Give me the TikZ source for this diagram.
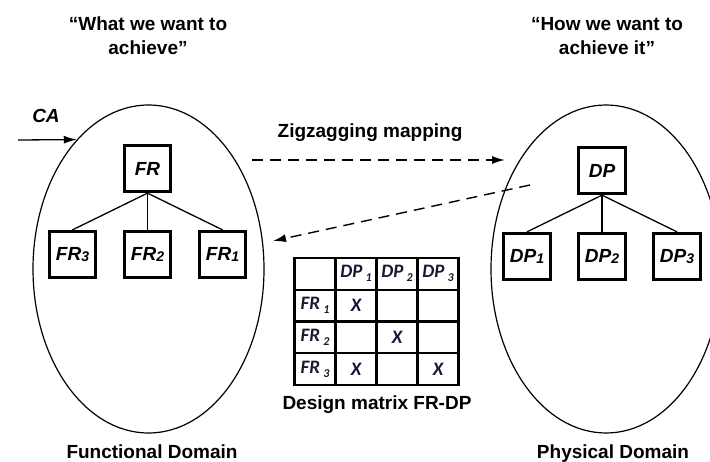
\documentclass[tikz,border=0pt]{standalone}
\usepackage{fontspec}
\setmainfont{Liberation Sans}
\newfontfamily\cellfont{Carlito}
\usetikzlibrary{positioning, arrows.meta, shapes.geometric, matrix}
\definecolor{cellink}{RGB}{22,24,52}
\newcommand{\boxidx}[1]{\raisebox{-1pt}{\fontsize{14}{14}\selectfont #1}}
\newcommand{\cellidx}[1]{\,\raisebox{-4pt}{\fontsize{12}{12}\selectfont #1}}

\begin{document}
\begin{tikzpicture}[x=1pt,y=1pt,node distance=75pt,on grid,
  dom/.style={draw,ellipse,line width=1.2pt,minimum width=231pt,minimum height=328pt,inner sep=0pt},
  req/.style={draw,line width=2.8pt,minimum width=46.5pt,minimum height=46.5pt,inner sep=0pt,font=\fontsize{19}{19}\selectfont\bfseries\itshape},
  head/.style={align=center,font=\fontsize{19}{24}\selectfont\bfseries},
  zig/.style={-{Latex[length=13pt,width=8pt]},dash pattern=on 11pt off 7pt,line width=1.4pt},
  link/.style={line width=1.3pt}]
\clip (0,0) rectangle (710,461);

\node[head] (what) at (148,425) {``What we want to\\achieve''};
\node[head] (how) at (607,425) {``How we want to\\achieve it''};

\node[dom] (fd) at (148.5,192) {};
\node[dom, minimum width=230pt] (pd) at (606,192) {};

\node[req] (FR) at (147.5,292.5) {FR};
\node[req, below=86pt of FR] (FR2) {FR\boxidx{2}};
\node[req, left=of FR2] (FR3) {FR\boxidx{3}};
\node[req, right=of FR2] (FR1) {FR\boxidx{1}};

\node[req] (DP) at (602,290.5) {DP};
\node[req, below=86pt of DP] (DP2) {DP\boxidx{2}};
\node[req, left=of DP2] (DP1) {DP\boxidx{1}};
\node[req, right=of DP2] (DP3) {DP\boxidx{3}};

\draw[link] (FR.south) edge (FR3.north) edge (FR2.north) edge (FR1.north);
\draw[link] (DP.south) edge (DP1.north) edge (DP2.north) edge (DP3.north);

\coordinate (ca) at (18,321);
\node[font=\fontsize{19}{19}\selectfont\bfseries\itshape] (catxt) at (46,345) {CA};
\draw[-{Latex[length=13pt,width=8pt]},line width=1.3pt] (ca) -- (fd.119);

\coordinate (z1) at (252,301);
\coordinate (z2) at (505,301);
\coordinate (z3) at (530,276);
\coordinate (z4) at (273,220);
\node[head] (zlab) at (370,328) {Zigzagging mapping};
\path[zig] (z1) edge (z2)
           (z3) edge (z4);

\matrix[matrix of nodes, nodes in empty cells, column sep=-2.2pt, row sep=-2.2pt,
  nodes={draw,line width=2.2pt,minimum width=41pt,minimum height=31.8pt,anchor=center,inner sep=0pt,
         text=cellink,font=\cellfont\fontsize{19}{19}\selectfont\bfseries\itshape}]
  (dsm) at (376.5,139.5) {
              & DP\cellidx{1} & DP\cellidx{2} & DP\cellidx{3} \\
FR\cellidx{1} & X             &               &               \\
FR\cellidx{2} &               & X             &               \\
FR\cellidx{3} & X             &               & X             \\
};
\node[head, anchor=base] (cap) at (377,52) {Design matrix FR-DP};

\node[head, anchor=base] (fdl) at (152,3) {Functional Domain};
\node[head, anchor=base] (pdl) at (613,3) {Physical Domain};
\end{tikzpicture}
\end{document}
